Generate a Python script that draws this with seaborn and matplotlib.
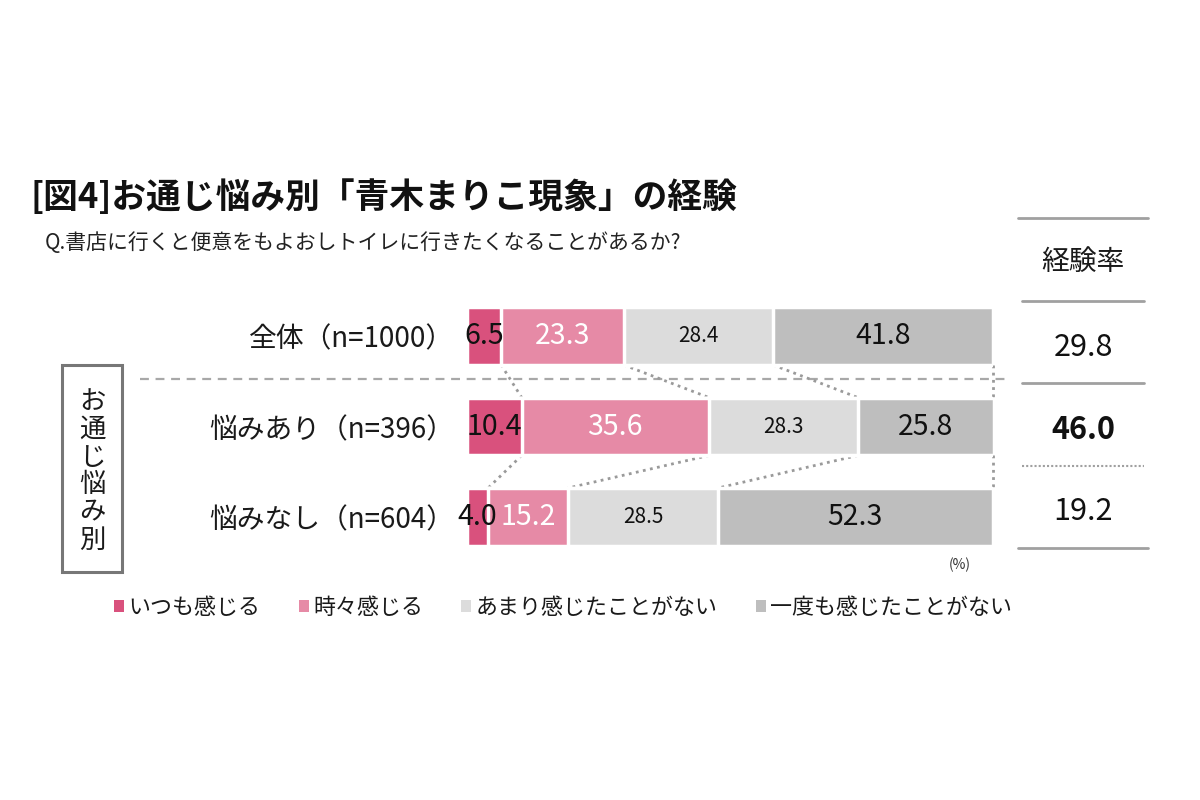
import matplotlib
matplotlib.use('Agg')
import matplotlib.pyplot as plt
import seaborn as sns
import pandas as pd
import numpy as np
from matplotlib.lines import Line2D
from matplotlib.patches import Rectangle, Patch

sns.set_theme(style='white')
plt.rcParams['font.family'] = ['Noto Sans CJK JP', 'DejaVu Sans']

# ---------------- data ----------------
title = '[図4]お通じ悩み別「青木まりこ現象」の経験'
subtitle = 'Q.書店に行くと便意をもよおしトイレに行きたくなることがあるか?'
groups = ['全体（n=1000）', '悩みあり（n=396）', '悩みなし（n=604）']
series = ['いつも感じる', '時々感じる', 'あまり感じたことがない', '一度も感じたことがない']
always = [6.5, 10.4, 4.0]
sometimes = [23.3, 35.6, 15.2]
rarely = [28.4, 28.3, 28.5]
never = [41.8, 25.8, 52.3]
rate = [29.8, 46.0, 19.2]
rate_header = '経験率'
group_box = 'お通じ悩み別'
unit = '(%)'
colors = ['#d9517d', '#e68aa6', '#dcdcdc', '#bebebe']

values = [always, sometimes, rarely, never]
df = pd.DataFrame({'group': groups})
cum = np.cumsum(np.array(values), axis=0)
cum_cols = []
for j in range(4):
    col = f'cum{j}'
    df[col] = cum[j]
    cum_cols.append(col)

W, H = 1200, 800
def fx(px):
    return px / W
def fy(py):
    return 1 - py / H

fig = plt.figure(figsize=(12, 8), dpi=100, facecolor='white')
ax = fig.add_axes([fx(467), fy(565), 526 / W, 275 / H])
ax.set_facecolor('white')

# stacked bars via layered cumulative bars (largest first)
for j in range(3, -1, -1):
    sns.barplot(data=df, x=cum_cols[j], y='group', orient='h', color=colors[j],
                saturation=1, width=0.64, edgecolor='white', linewidth=2.5,
                errorbar=None, ax=ax, zorder=2)

ax.set_xlim(0, 100)
ax.set_ylim(2.53, -0.508)
ax.set_xlabel('')
ax.set_ylabel('')
ax.set_xticks([])
ax.tick_params(axis='y', length=0, pad=9, labelsize=20, labelcolor='#1a1a1a')
sns.despine(ax=ax, left=True, bottom=True)
for s in ax.spines.values():
    s.set_visible(False)

# value labels
for i in range(3):
    left = 0.0
    for j in range(4):
        v = values[j][i]
        c = left + v / 2
        color = 'white' if j == 1 else '#111111'
        size = 15 if j == 2 else 20.5
        ax.text(c, i, f'{v:.1f}', ha='center', va='center', color=color,
                fontsize=size, zorder=5)
        left += v

# connector dotted lines between rows
hh = 0.32
for i in range(2):
    for j in range(3):
        ax.plot([cum[j][i], cum[j][i + 1]], [i + hh, i + 1 - hh], linestyle=(0, (1, 1.6)),
                color='#9a9a9a', linewidth=2, clip_on=False, zorder=1)
    ax.plot([100, 100], [i + hh, i + 1 - hh], linestyle=(0, (1, 1.6)),
            color='#9a9a9a', linewidth=2, clip_on=False, zorder=1)

# dashed separator
ax.plot([-62.2, 103.2], [0.48, 0.48], linestyle=(0, (4, 3)), color='#a8a8a8',
        linewidth=1.6, clip_on=False, zorder=0)

# title & subtitle
fig.text(fx(30), fy(197), title, fontsize=25, fontweight='bold', color='#111111',
         ha='left', va='center')
fig.text(fx(45), fy(243), subtitle, fontsize=15, color='#222222', ha='left', va='center')

# group box with vertical text
fig.add_artist(Rectangle((fx(62), fy(572)), 60 / W, 207 / H, transform=fig.transFigure,
                         fill=False, edgecolor='#777777', linewidth=2.2))
for k, ch in enumerate(group_box):
    fig.text(fx(92), fy(402 + k * 27.6), ch, fontsize=19, color='#1a1a1a',
             ha='center', va='center')

# rate table
def hline(y, x0, x1, style='-'):
    fig.add_artist(Line2D([fx(x0), fx(x1)], [fy(y), fy(y)], transform=fig.transFigure,
                          color='#a0a0a0', linewidth=2 if style == '-' else 1.5,
                          linestyle=style))

hline(218, 1018, 1148)
hline(300.5, 1022, 1144)
hline(383, 1022, 1144)
hline(466, 1022, 1144, (0, (1, 1)))
hline(548, 1018, 1148)
fig.text(fx(1083), fy(262), rate_header, fontsize=20, color='#1a1a1a', ha='center', va='center')
rate_y = [347, 430, 512]
for k, r in enumerate(rate):
    fig.text(fx(1083), fy(rate_y[k]), f'{r:.1f}', fontsize=22, color='#111111',
             fontweight='bold' if k == 1 else 'normal', ha='center', va='center')

# unit
fig.text(fx(960), fy(565), unit, fontsize=10, color='#333333', ha='center', va='center')

# legend
handles = [Patch(facecolor=c, edgecolor='none') for c in colors]
fig.legend(handles=handles, labels=series, loc='center left',
           bbox_to_anchor=(fx(114), fy(608)), ncol=4, frameon=False, fontsize=15.8,
           handlelength=0.45, handleheight=0.45, handletextpad=0.2, columnspacing=1.75,
           borderpad=0, borderaxespad=0, labelcolor='#1a1a1a')

fig.savefig('out.png', dpi=100, facecolor='white')
